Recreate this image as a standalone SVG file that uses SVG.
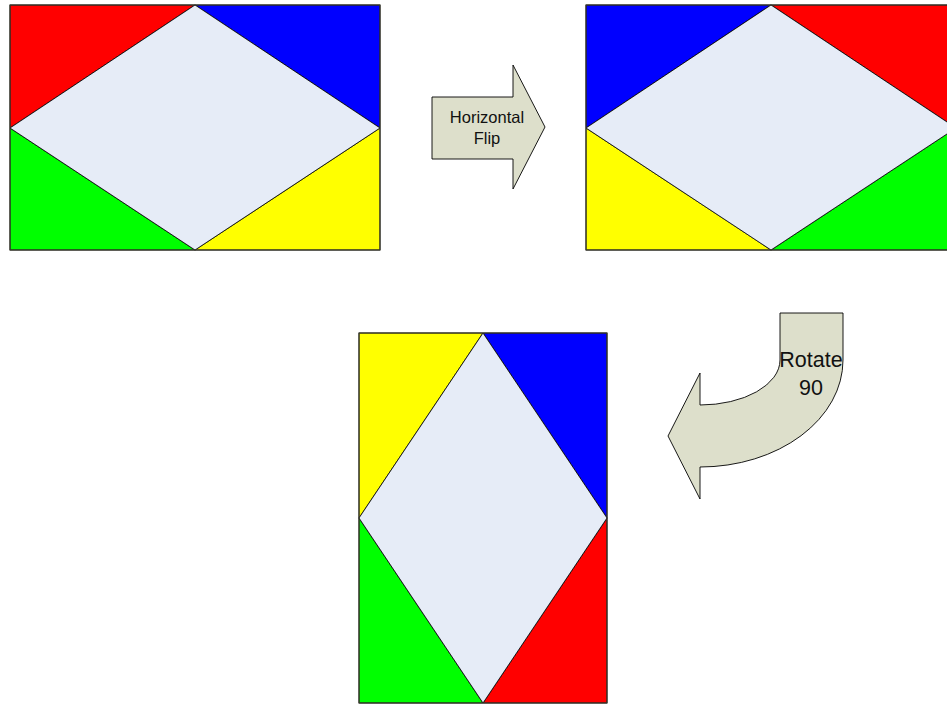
<svg xmlns="http://www.w3.org/2000/svg" width="947" height="704" viewBox="0 0 947 704">
<style>
.frame{fill:none;stroke:#3a3a2e;stroke-width:1.2}
.tri{stroke:#000;stroke-width:0.8;stroke-linejoin:miter}
.dia{fill:#E6ECF7;stroke:#000;stroke-width:0.8}
.arrow{fill:#DDDFCB;stroke:#000;stroke-width:0.9}
.lbl{font-family:"Liberation Sans",Arial,sans-serif;fill:#111;text-anchor:middle}
</style>
<rect width="947" height="704" fill="#fff"/>
<g id="original">
<polygon class="tri" fill="#FF0000" points="10,5 195,5 10,128"/>
<polygon class="tri" fill="#0000FF" points="195,5 380,5 380,128"/>
<polygon class="tri" fill="#00FF00" points="10,128 195,250 10,250"/>
<polygon class="tri" fill="#FFFF00" points="380,128 380,250 195,250"/>
<polygon class="dia" points="195,5 380,128 195,250 10,128"/>
<rect class="frame" x="10" y="5" width="370" height="245"/>
</g>
<g id="flipped">
<polygon class="tri" fill="#0000FF" points="586,5 771,5 586,128"/>
<polygon class="tri" fill="#FF0000" points="771,5 956,5 956,128"/>
<polygon class="tri" fill="#FFFF00" points="586,128 771,250 586,250"/>
<polygon class="tri" fill="#00FF00" points="956,128 956,250 771,250"/>
<polygon class="dia" points="771,5 956,128 771,250 586,128"/>
<rect class="frame" x="586" y="5" width="370" height="245"/>
</g>
<g id="rotated">
<polygon class="tri" fill="#FFFF00" points="359,333 483,333 359,518"/>
<polygon class="tri" fill="#0000FF" points="483,333 607,333 607,518"/>
<polygon class="tri" fill="#00FF00" points="359,518 483,703 359,703"/>
<polygon class="tri" fill="#FF0000" points="607,518 607,703 483,703"/>
<polygon class="dia" points="483,333 607,518 483,703 359,518"/>
<rect class="frame" x="359" y="333" width="248" height="370"/>
</g>
<g id="connectors">
<g id="horizontal-flip">
<polygon class="arrow" points="432,97 513,97 513,65 545,127 513,189 513,159 432,159"/>
<text class="lbl" font-size="16.5" x="487" y="123">Horizontal</text>
<text class="lbl" font-size="16.5" x="487" y="144">Flip</text>
</g>
<g id="rotate-90">
<path class="arrow" d="M780,313 L843,313 L843,360 A143,107 0 0 1 700,467 L700,499 L668,436 L700,373 L700,405 A80,45 0 0 0 780,360 Z"/>
<text class="lbl" font-size="21.5" x="811" y="367">Rotate</text>
<text class="lbl" font-size="21.5" x="811" y="395">90</text>
</g>
</g>
</svg>
